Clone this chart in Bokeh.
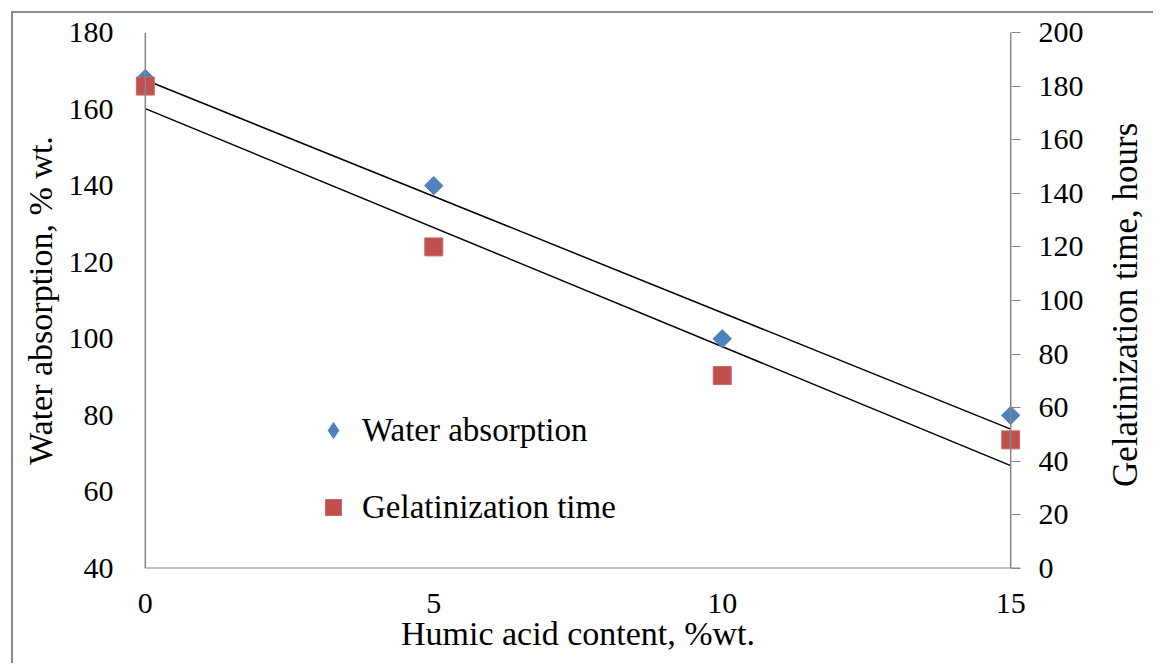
import numpy as np
from bokeh.plotting import figure
from bokeh.layouts import row
from bokeh.models import Range1d, LinearAxis, Span, Legend, LegendItem, FixedTicker, Label
from bokeh.embed import file_html
from bokeh.resources import INLINE

# ---- data ----
humic = [0, 5, 10, 15]
water_absorption = [168, 140, 100, 80]
gel_time = [180, 120, 72, 48]

x_ticks = [0, 5, 10, 15]
left_ticks = [40, 60, 80, 100, 120, 140, 160, 180]
right_ticks = [0, 20, 40, 60, 80, 100, 120, 140, 160, 180, 200]

FONT = "Liberation Serif"
AX = "#868686"
BLUE = "#4F81BD"
RED = "#C0504D"

pad = 0.17
x_lo, x_hi = x_ticks[0], x_ticks[-1]
yl_lo, yl_hi = left_ticks[0], left_ticks[-1]
yr_lo, yr_hi = right_ticks[0], right_ticks[-1]

H = 650
TOP, BOTTOM = 19, 95
p = figure(width=1090, height=H,
           x_range=Range1d(x_lo - pad, x_hi + pad),
           y_range=Range1d(yl_lo, yl_hi),
           output_backend="svg", toolbar_location=None,
           min_border_left=122, min_border_right=83,
           min_border_top=TOP, min_border_bottom=BOTTOM)
p.extra_y_ranges = {"right": Range1d(yr_lo, yr_hi)}
p.grid.visible = False
p.outline_line_color = None
p.background_fill_color = "white"
p.border_fill_color = "white"

# x axis
xa = p.xaxis[0]
xa.ticker = FixedTicker(ticks=x_ticks)
xa.axis_line_color = None
xa.major_tick_out = 0
xa.major_tick_in = 0
xa.major_tick_line_color = None
xa.minor_tick_line_color = None
xa.major_label_standoff = 25
xa.major_label_text_font = FONT
xa.major_label_text_font_size = "30px"
xa.major_label_text_color = "black"
xa.axis_label = "Humic acid content, %wt."
xa.axis_label_text_font = FONT
xa.axis_label_text_font_size = "34px"
xa.axis_label_text_font_style = "normal"
xa.axis_label_text_color = "black"
xa.axis_label_standoff = -1

# left axis
ya = p.yaxis[0]
ya.ticker = FixedTicker(ticks=left_ticks)
ya.axis_line_color = None
ya.major_tick_out = 0
ya.major_tick_in = 0
ya.major_tick_line_color = None
ya.minor_tick_line_color = None
ya.major_label_standoff = 22
ya.major_label_text_font = FONT
ya.major_label_text_font_size = "30px"
ya.major_label_text_color = "black"
ya.axis_label = "Water absorption, % wt."
ya.axis_label_text_font = FONT
ya.axis_label_text_font_size = "34px"
ya.axis_label_text_font_style = "normal"
ya.axis_label_text_color = "black"
ya.axis_label_standoff = 7

# right axis
ra = LinearAxis(y_range_name="right", ticker=FixedTicker(ticks=right_ticks))
ra.axis_line_color = None
ra.major_tick_in = 9
ra.major_tick_out = 0
ra.major_tick_line_color = AX
ra.minor_tick_line_color = None
ra.major_label_standoff = 18
ra.major_label_text_font = FONT
ra.major_label_text_font_size = "30px"
ra.major_label_text_color = "black"
p.add_layout(ra, "right")

# axis lines
p.add_layout(Span(location=x_lo, dimension="height", line_color=AX, line_width=1.5))
p.add_layout(Span(location=x_hi, dimension="height", line_color=AX, line_width=1.5))
p.segment(x0=[x_lo], y0=[yl_lo], x1=[x_hi + pad], y1=[yl_lo], line_color=AX, line_width=2)

# trend lines
xs = np.array([x_lo, x_hi], dtype=float)
cw = np.polyfit(humic, water_absorption, 1)
cg = np.polyfit(humic, gel_time, 1)
p.line(xs, np.polyval(cw, xs), line_color="black", line_width=1.5)
p.line(xs, np.polyval(cg, xs), line_color="black", line_width=1.5, y_range_name="right")

# points
r_w = p.scatter(humic, water_absorption, marker="square", angle=45, angle_units="deg",
                size=13, fill_color=BLUE, line_color=BLUE)
r_g = p.scatter(humic, gel_time, marker="square", size=18, fill_color=RED,
                line_color="#c86a67", y_range_name="right")
# legend-only glyph (diamond), not visible in the frame
r_wl = p.scatter(x=[np.nan], y=[np.nan], marker="diamond", fill_color=BLUE, line_color=BLUE)

legend = Legend(items=[LegendItem(label="Water absorption", renderers=[r_wl]),
                       LegendItem(label="Gelatinization time", renderers=[r_g])],
                location=(178, 41), orientation="vertical",
                glyph_width=40, glyph_height=40, label_height=37, spacing=37,
                label_standoff=9, padding=0, margin=0,
                label_text_font=FONT, label_text_font_size="33px",
                label_text_color="black",
                background_fill_alpha=0, border_line_color=None)
p.add_layout(legend)

# right-hand axis title, reading bottom to top
W2 = 50
p2 = figure(width=W2, height=H, x_range=Range1d(0, 1), y_range=Range1d(yl_lo, yl_hi),
            output_backend="svg", toolbar_location=None,
            min_border_left=0, min_border_right=0,
            min_border_top=TOP, min_border_bottom=BOTTOM)
p2.axis.visible = False
p2.grid.visible = False
p2.outline_line_color = None
p2.add_layout(Label(x=0.44, y=(yl_lo + yl_hi) / 2, y_offset=0, angle=90, angle_units="deg",
                    text="Gelatinization time,  hours", text_align="center",
                    text_baseline="middle", text_font=FONT,
                    text_font_size="35px", text_color="black"))

inner = row(p, p2, styles={"border-left": "2px solid #8a8a8a",
                           "border-top": "2px solid #8a8a8a"})
layout = row(inner, margin=(11, 0, 0, 11))

open("out.html", "w").write(file_html(layout, INLINE))
